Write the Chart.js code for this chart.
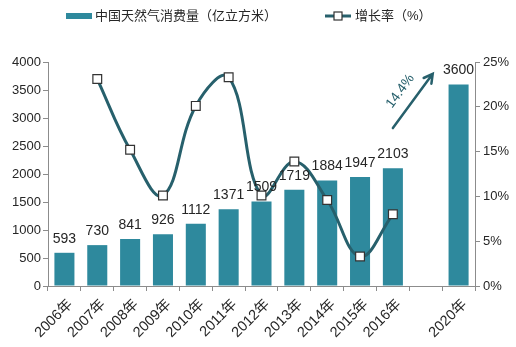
<!DOCTYPE html>
<html>
<head>
<meta charset="utf-8">
<script src="https://cdn.jsdelivr.net/npm/chart.js@4/dist/chart.umd.min.js"></script>
<style>
  html, body { margin: 0; padding: 0; background: #ffffff; }
  #wrap { width: 516px; height: 347px; position: relative; }
</style>
</head>
<body>
<div id="wrap"><canvas id="c" width="516" height="347"></canvas></div>
<script>
// Years on the category axis (blank slot separates the 2020 forecast)
const years = ['2006年','2007年','2008年','2009年','2010年','2011年','2012年','2013年','2014年','2015年','2016年','','2020年'];
// Natural gas consumption, 100 million cubic metres
const consumption = [593, 730, 841, 926, 1112, 1371, 1509, 1719, 1884, 1947, 2103, null, 3600];
// Year-on-year growth rate, %
const growth = [null, 23.1, 15.2, 10.1, 20.1, 23.3, 10.1, 13.9, 9.6, 3.3, 8.0, null, null];
// Axis ticks
const leftTicks = [0, 500, 1000, 1500, 2000, 2500, 3000, 3500, 4000];
const rightTicks = [0, 5, 10, 15, 20, 25];
// Series names and the forecast note
const barName = '中国天然气消费量（亿立方米）';
const lineName = '增长率（%）';
const cagrNote = '14.4%';

const FONT = '"Liberation Sans", Arial, "Noto Sans CJK SC", sans-serif';
const BAR = '#2e899d';
const LINE = '#27606c';
const AXIS = '#8c8c8c';

// Values printed above each bar
const barLabels = {
  id: 'barLabels',
  afterDatasetsDraw(chart) {
    const meta = chart.getDatasetMeta(1);
    const ctx = chart.ctx;
    ctx.save();
    ctx.font = '14px ' + FONT;
    ctx.fillStyle = '#262626';
    ctx.textAlign = 'center';
    ctx.textBaseline = 'alphabetic';
    meta.data.forEach((el, i) => {
      const v = consumption[i];
      if (v == null) return;
      ctx.fillText(String(v), el.x, el.y - 10);
    });
    ctx.restore();
  }
};

// Growth arrow towards the 2020 forecast with its annual rate
const forecastArrow = {
  id: 'forecastArrow',
  afterDatasetsDraw(chart) {
    const xs = chart.scales.x, ys = chart.scales.y;
    const x0 = xs.getPixelForValue(10), y0 = ys.getPixelForValue(2820);
    const x1 = xs.getPixelForValue(11) + 7, y1 = ys.getPixelForValue(3790);
    const ctx = chart.ctx;
    ctx.save();
    ctx.strokeStyle = LINE;
    ctx.lineWidth = 2.5;
    ctx.lineCap = 'round';
    ctx.beginPath();
    ctx.moveTo(x0, y0);
    ctx.lineTo(x1, y1);
    const ang = Math.atan2(y1 - y0, x1 - x0);
    const hl = 10;
    ctx.moveTo(x1 + hl * Math.cos(ang + Math.PI - 0.5), y1 + hl * Math.sin(ang + Math.PI - 0.5));
    ctx.lineTo(x1, y1);
    ctx.lineTo(x1 + hl * Math.cos(ang + Math.PI + 0.5), y1 + hl * Math.sin(ang + Math.PI + 0.5));
    ctx.stroke();
    // rate text, parallel to the arrow
    const mx = (x0 + x1) / 2, my = (y0 + y1) / 2;
    const off = 13;
    const tx = mx + off * Math.sin(ang) - 2, ty = my - off * Math.cos(ang) - 2;
    ctx.translate(tx, ty);
    ctx.rotate(ang);
    ctx.font = '13.5px ' + FONT;
    ctx.fillStyle = LINE;
    ctx.textAlign = 'center';
    ctx.textBaseline = 'middle';
    ctx.fillText(cagrNote, 0, 0);
    ctx.restore();
  }
};

// Legend row above the plot
const topLegend = {
  id: 'topLegend',
  afterDraw(chart) {
    const ctx = chart.ctx;
    ctx.save();
    ctx.font = '13px ' + FONT;
    ctx.textBaseline = 'middle';
    const cy = 16;
    ctx.fillStyle = BAR;
    ctx.fillRect(66, cy - 3, 26, 6);
    ctx.fillStyle = '#262626';
    ctx.fillText(barName, 95, cy);
    ctx.strokeStyle = LINE;
    ctx.lineWidth = 3;
    ctx.beginPath();
    ctx.moveTo(325, cy);
    ctx.lineTo(351, cy);
    ctx.stroke();
    ctx.fillStyle = '#ffffff';
    ctx.lineWidth = 1.2;
    ctx.strokeStyle = '#333';
    ctx.fillRect(334, cy - 4, 8, 8);
    ctx.strokeRect(334, cy - 4, 8, 8);
    ctx.fillStyle = '#262626';
    ctx.fillText(lineName, 355, cy);
    ctx.restore();
  }
};

new Chart(document.getElementById('c'), {
  type: 'bar',
  data: {
    labels: years,
    datasets: [
      {
        type: 'line',
        label: lineName,
        data: growth,
        yAxisID: 'y1',
        borderColor: LINE,
        borderWidth: 3,
        tension: 0.4,
        spanGaps: false,
        clip: false,
        pointStyle: 'rect',
        pointRadius: 6.2,
        pointBackgroundColor: '#ffffff',
        pointBorderColor: '#333333',
        pointBorderWidth: 1.2,
        order: 1
      },
      {
        type: 'bar',
        label: barName,
        data: consumption,
        yAxisID: 'y',
        backgroundColor: BAR,
        barPercentage: 0.61,
        categoryPercentage: 1,
        order: 2
      }
    ]
  },
  options: {
    responsive: false,
    animation: false,
    devicePixelRatio: 1,
    layout: { padding: { top: 62, left: 0, right: 0, bottom: 0 } },
    plugins: { legend: { display: false }, tooltip: { enabled: false } },
    scales: {
      x: {
        offset: true,
        grid: { display: true, offset: true, drawOnChartArea: false, drawTicks: true, tickLength: 5, color: AXIS },
        border: { display: true, color: AXIS },
        ticks: { autoSkip: false, maxRotation: 45, minRotation: 45, color: '#262626', font: { size: 14.5, family: FONT }, padding: 5, labelOffset: 6 },
        afterFit(s) { s.height = 61; }
      },
      y: {
        position: 'left',
        min: 0, max: 4000,
        afterBuildTicks(s) { s.ticks = leftTicks.map(v => ({ value: v })); },
        grid: { drawOnChartArea: false, drawTicks: true, tickLength: 5, color: AXIS },
        border: { display: true, color: AXIS },
        ticks: { color: '#262626', font: { size: 13, family: FONT }, padding: 2, callback: v => String(v) },
        afterFit(s) { s.width = 48; }
      },
      y1: {
        position: 'right',
        min: 0, max: 25,
        afterBuildTicks(s) { s.ticks = rightTicks.map(v => ({ value: v })); },
        grid: { drawOnChartArea: false, drawTicks: true, tickLength: 5, color: AXIS },
        border: { display: true, color: AXIS },
        ticks: { color: '#262626', font: { size: 13, family: FONT }, padding: 3, callback: v => v + '%' },
        afterFit(s) { s.width = 41; }
      }
    }
  },
  plugins: [barLabels, forecastArrow, topLegend]
});
</script>
</body>
</html>
